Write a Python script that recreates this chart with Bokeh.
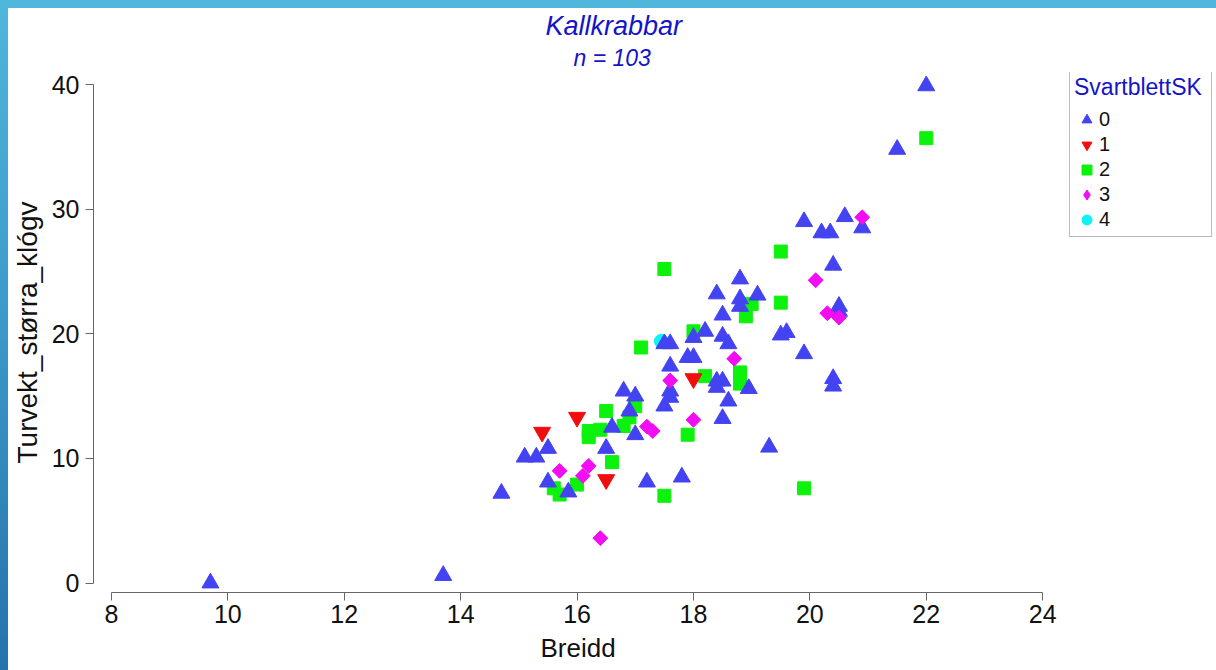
from bokeh.plotting import figure
from bokeh.models import (Range1d, FixedTicker, Title, Legend, LegendItem,
                          GlobalInlineStyleSheet)
from bokeh.embed import file_html
from bokeh.resources import INLINE

# ---------------- texts ----------------
title_text = "Kallkrabbar"
subtitle_text = "n = 103"
x_label = "Breidd"
y_label = "Turvekt_størra_klógv"
legend_title = "SvartblettSK"
categories = ["0", "1", "2", "3", "4"]
x_ticks = [8, 10, 12, 14, 16, 18, 20, 22, 24]
y_ticks = [0, 10, 20, 30, 40]

# ---------------- data ----------------
cat0_x = [9.7, 13.7, 14.7, 15.1, 15.3, 15.5, 15.5, 15.85, 16.5, 16.6, 16.8, 17.0,
          16.9, 17.0, 17.2, 17.8, 17.5, 17.6, 17.6, 17.5, 17.6, 17.6, 17.9, 18.0,
          18.0, 18.2, 18.4, 18.5, 18.5, 18.6, 18.4, 18.5, 18.4, 18.95, 18.6, 18.5,
          18.8, 18.8, 18.8, 19.1, 19.5, 19.6, 19.9, 19.3, 19.9, 20.6, 20.9, 20.2,
          20.35, 20.4, 20.5, 20.5, 20.4, 20.4, 21.5, 22.0]
cat0_y = [0.0, 0.6, 7.2, 10.1, 10.1, 10.8, 8.1, 7.3, 10.8, 12.5, 15.4, 15.0,
          13.8, 11.9, 8.1, 8.5, 14.2, 15.4, 14.9, 19.2, 19.2, 17.4, 18.1, 18.1,
          19.7, 20.2, 23.2, 21.5, 19.8, 19.2, 16.2, 16.2, 15.7, 15.6, 14.6, 13.2,
          24.4, 22.8, 22.2, 23.1, 19.9, 20.1, 18.4, 10.9, 29.0, 29.4, 28.5, 28.1,
          28.1, 25.5, 22.2, 21.8, 16.4, 15.8, 34.8, 39.9]

cat1_x = [15.4, 16.0, 16.5, 18.0]
cat1_y = [12.1, 13.3, 8.3, 16.4]

cat2_x = [15.6, 15.7, 16.0, 16.2, 16.2, 16.4, 16.5, 16.6, 16.8, 16.9, 17.0, 17.5,
          17.9, 17.5, 17.1, 18.0, 18.2, 18.8, 18.8, 18.9, 19.0, 19.5, 19.5, 19.9, 22.0]
cat2_y = [7.6, 7.1, 7.9, 12.2, 11.7, 12.3, 13.8, 9.7, 12.6, 13.3, 14.2, 7.0,
          11.9, 25.2, 18.9, 20.2, 16.6, 16.9, 16.0, 21.4, 22.4, 22.5, 26.6, 7.6, 35.7]

cat3_x = [15.7, 16.1, 16.2, 16.4, 17.2, 17.3, 18.0, 17.6, 18.7, 20.1, 20.3, 20.5, 20.9]
cat3_y = [9.0, 8.6, 9.4, 3.6, 12.55, 12.2, 13.1, 16.25, 18.0, 24.3, 21.65, 21.3, 29.35]

cat4_x = [17.45]
cat4_y = [19.4]

# ---------------- styles ----------------
FONT = "Liberation Sans"
BLUE = "#4343F2"
RED = "#F20D0D"
GREEN = "#0DF20D"
MAGENTA = "#F20DF2"
CYAN = "#0DF2F2"
TITLE_BLUE = "#1414C8"
AXIS_GRAY = "#666666"
TEXT = "#111111"

p = figure(width=1208, height=662, output_backend="svg", toolbar_location=None,
           title=None,
           x_range=Range1d(7.691, 26.987), y_range=Range1d(-0.762, 40.97),
           min_border_left=85, min_border_right=0, min_border_top=64,
           min_border_bottom=78)
p.background_fill_color = "white"
p.border_fill_color = "white"
p.outline_line_color = None
p.xgrid.grid_line_color = None
p.ygrid.grid_line_color = None

# titles (left aligned + pixel offset so they sit centred on the page)
p.add_layout(Title(text=subtitle_text, text_font=FONT, text_font_size="23px",
                   text_font_style="italic", text_color=TITLE_BLUE,
                   align="left", offset=480, standoff=4), "above")
p.add_layout(Title(text=title_text, text_font=FONT, text_font_size="27px",
                   text_font_style="italic", text_color=TITLE_BLUE,
                   align="left", offset=452, standoff=0), "above")

for ax, ticks, bounds in ((p.xaxis, x_ticks, (8, 24)), (p.yaxis, y_ticks, (0, 40))):
    ax.ticker = FixedTicker(ticks=ticks)
    ax.bounds = bounds
    ax.axis_line_color = AXIS_GRAY
    ax.major_tick_line_color = AXIS_GRAY
    ax.major_tick_in = 0
    ax.major_tick_out = 8
    ax.minor_tick_line_color = None
    ax.major_label_text_font = FONT
    ax.major_label_text_font_size = "25px"
    ax.major_label_text_color = TEXT
    ax.axis_label_text_font = FONT
    ax.axis_label_text_font_style = "normal"
    ax.axis_label_text_color = TEXT

p.xaxis.major_label_standoff = 4
p.yaxis.major_label_standoff = 6
p.yaxis.axis_label = y_label
p.yaxis.axis_label_text_font_size = "28px"
p.yaxis.axis_label_standoff = 6

# x-axis title centred under the 8..24 axis line
p.add_layout(Title(text=x_label, text_font=FONT, text_font_size="26px",
                   text_font_style="normal", text_color=TEXT,
                   align="left", offset=447, standoff=10), "below")

r4 = p.scatter(cat4_x, cat4_y, marker="circle", size=14, fill_color=CYAN, line_color=CYAN)
r2 = p.scatter(cat2_x, cat2_y, marker="square", size=13, fill_color=GREEN, line_color=GREEN)
r0 = p.scatter(cat0_x, cat0_y, marker="triangle", size=17, fill_color=BLUE, line_color=BLUE)
r1 = p.scatter(cat1_x, cat1_y, marker="inverted_triangle", size=17, fill_color=RED, line_color=RED)
# diamond glyph (used by the legend), hidden beneath the square-shaped diamonds
r3_leg = p.scatter(cat3_x, cat3_y, marker="diamond", size=9, fill_color=MAGENTA, line_color=MAGENTA)
r3 = p.scatter(cat3_x, cat3_y, marker="square", angle=0.785398, size=10.5,
               fill_color=MAGENTA, line_color=MAGENTA)

legend = Legend(items=[LegendItem(label=categories[0], renderers=[r0]),
                       LegendItem(label=categories[1], renderers=[r1]),
                       LegendItem(label=categories[2], renderers=[r2]),
                       LegendItem(label=categories[3], renderers=[r3_leg]),
                       LegendItem(label=categories[4], renderers=[r4])],
                title=legend_title, location=(976, 355), orientation="vertical")
legend.title_text_font = FONT
legend.title_text_font_size = "23px"
legend.title_text_font_style = "normal"
legend.title_text_color = TITLE_BLUE
legend.title_standoff = 6
legend.label_text_font = FONT
legend.label_text_font_size = "20px"
legend.label_text_color = TEXT
legend.glyph_width = 25
legend.glyph_height = 25
legend.label_height = 25
legend.label_width = 108
legend.label_standoff = 0
legend.spacing = 0
legend.padding = 4
legend.margin = 0
legend.border_line_color = "#777777"
legend.border_line_width = 1
legend.background_fill_color = "white"
legend.background_fill_alpha = 1.0
p.add_layout(legend, "center")

p.stylesheets = [GlobalInlineStyleSheet(css=(
    "html{overflow:hidden;"
    "background:linear-gradient(to bottom,#4fb6dc 0%,#3d9bcb 45%,#2373ac 100%) !important;}"
    "html body{margin:0 !important;padding:8px 0 0 8px !important;overflow:visible;"
    "background:white !important;background-clip:content-box !important;}"))]

open("out.html", "w").write(file_html(p, INLINE))
